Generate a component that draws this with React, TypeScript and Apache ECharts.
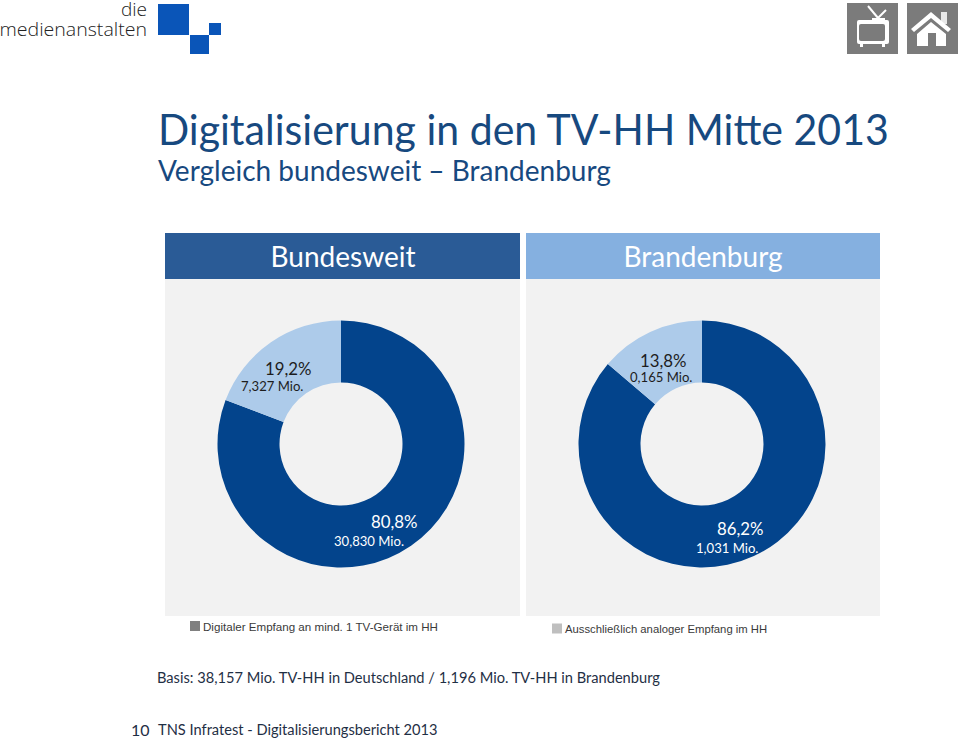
import React, { useEffect, useRef } from "react";
import * as echarts from "echarts";

const categories = ["Digitaler Empfang an mind. 1 TV-Gerät im HH", "Ausschließlich analoger Empfang im HH"];
const bundesweitValues = [30.83, 7.327];
const brandenburgValues = [1.031, 0.165];
const bundesweitPct = ["80,8%", "19,2%"];
const brandenburgPct = ["86,2%", "13,8%"];
const bundesweitMio = ["30,830 Mio.", "7,327 Mio."];
const brandenburgMio = ["1,031 Mio.", "0,165 Mio."];
const headers = ["Bundesweit", "Brandenburg"];

const FONT = "Lato, 'Open Sans', sans-serif";
const DARK = "#03448c";
const LIGHT = "#adcbea";

function pieSeries(center: number[], values: number[], pct: string[], mio: string[], pos: number[][], pads: number[], lhs: number[]) {
  return {
    type: "pie",
    center,
    radius: [61.5, 123.5],
    startAngle: 90,
    clockwise: true,
    avoidLabelOverlap: false,
    silent: true,
    labelLine: { show: false },
    data: values.map((v, i) => {
      const c = i === 0 ? "#ffffff" : "#1d1d1d";
      return {
        value: v,
        name: categories[i],
        itemStyle: { color: i === 0 ? DARK : LIGHT },
        label: {
          show: true,
          position: "inside",
          align: "left",
          verticalAlign: "top",
          formatter: `{p|${pct[i]}}\n{m|${mio[i]}}`,
          rich: {
            p: { fontFamily: FONT, fontSize: 16.8, color: c, lineHeight: lhs[i], padding: [0, 0, 0, pads[i]] },
            m: { fontFamily: FONT, fontSize: 13.1, color: c, lineHeight: 16 },
          },
        },
      };
    }),
    labelLayout: (p: any) => ({ x: pos[p.dataIndex][0], y: pos[p.dataIndex][1], align: "left", verticalAlign: "top" }),
  };
}

const sq = (x: number, y: number, width: number, height: number, fill: string) => ({
  type: "rect",
  shape: { x, y, width, height },
  style: { fill },
  silent: true,
});
const txt = (x: number, y: number, text: string, fontSize: number, fill: string, scaleX = 1, extra: any = {}) => ({
  type: "text",
  x,
  y,
  scaleX,
  silent: true,
  style: { text, fontSize, fill, fontFamily: FONT, textVerticalAlign: "middle", ...extra },
});

export default function App() {
  const ref = useRef<HTMLDivElement>(null);
  useEffect(() => {
    document.body.style.margin = "0";
    const chart = echarts.init(ref.current!, null, { renderer: "svg" });
    const legendBase = {
      orient: "horizontal",
      icon: "rect",
      itemWidth: 10,
      itemHeight: 10,
      itemGap: 0,
      padding: 0,
      selectedMode: false,
    };
    const legendText = (fontSize: number) => ({
      fontFamily: "'Liberation Sans', Arial, sans-serif",
      fontSize,
      color: "#3a3a3a",
      padding: [0, 0, 0, -2],
    });
    chart.setOption({
      animation: false,
      backgroundColor: "#ffffff",
      legend: [
        { ...legendBase, left: 190, top: 620, textStyle: legendText(11.6), data: [{ name: categories[0], itemStyle: { color: "#808080" } }] },
        { ...legendBase, left: 552, top: 623, textStyle: legendText(11.3), data: [{ name: categories[1], itemStyle: { color: "#bfbfbf" } }] },
      ],
      graphic: [
        sq(165, 279, 355, 337, "#f2f2f2"),
        sq(526, 279, 354, 337, "#f2f2f2"),
        sq(165, 233, 355, 46, "#2a5b96"),
        sq(526, 233, 354, 46, "#85b0e0"),
        txt(343, 256, headers[0], 28, "#ffffff", 1, { textAlign: "center" }),
        txt(703, 256, headers[1], 28, "#ffffff", 1, { textAlign: "center" }),
        txt(158, 129, "Digitalisierung in den TV-HH Mitte 2013", 43, "#17497f", 0.955),
        txt(158, 170, "Vergleich bundesweit – Brandenburg", 28, "#17497f"),
        txt(157, 677, "Basis: 38,157 Mio. TV-HH in Deutschland / 1,196 Mio. TV-HH in Brandenburg", 16, "#1f2f45", 0.915),
        txt(131, 729, "10", 16, "#1f2f45"),
        txt(158, 729, "TNS Infratest - Digitalisierungsbericht 2013", 16, "#1f2f45", 0.915),
        // logo
        txt(147, 9, "die", 19, "#222222", 1, { textAlign: "right", fontFamily: "'Open Sans', sans-serif", fontWeight: 300, lineHeight: 18 }),
        txt(147, 29, "medienanstalten", 19, "#222222", 1.03, { textAlign: "right", fontFamily: "'Open Sans', sans-serif", fontWeight: 300, lineHeight: 18 }),
        sq(158, 4, 31, 31, "#0a55b8"),
        sq(190, 35, 19, 19, "#0a55b8"),
        sq(209, 23, 12, 12, "#0a55b8"),
        // TV icon
        sq(847, 3, 51, 51, "#7b7b7b"),
        { type: "line", silent: true, shape: { x1: 868, y1: 6, x2: 878, y2: 18 }, style: { stroke: "#fff", lineWidth: 2 } },
        { type: "line", silent: true, shape: { x1: 886, y1: 10, x2: 878, y2: 18 }, style: { stroke: "#fff", lineWidth: 2 } },
        sq(872, 18, 13, 2, "#ffffff"),
        { type: "rect", silent: true, shape: { x: 857, y: 20, width: 32, height: 24, r: 2 }, style: { fill: "#ffffff" } },
        { type: "rect", silent: true, shape: { x: 859, y: 24, width: 26, height: 17, r: 2 }, style: { fill: "#7b7b7b" } },
        sq(860, 44, 3, 3, "#ffffff"),
        sq(882, 44, 3, 3, "#ffffff"),
        // house icon
        sq(907, 3, 51, 51, "#7b7b7b"),
        sq(941, 12, 6, 12, "#e8e8e8"),
        { type: "polygon", silent: true, shape: { points: [[931, 12], [951, 29], [948, 32], [931, 18], [914, 32], [911, 29]] }, style: { fill: "#ffffff" } },
        { type: "polygon", silent: true, shape: { points: [[931, 22], [946, 34], [946, 46], [936, 46], [936, 33], [928, 33], [928, 46], [917, 46], [917, 34]] }, style: { fill: "#ffffff" } },
      ],
      series: [
        pieSeries([341, 444], bundesweitValues, bundesweitPct, bundesweitMio, [[334, 510], [241, 359]], [37, 24], [23, 19]),
        pieSeries([702, 444], brandenburgValues, brandenburgPct, brandenburgMio, [[696, 517], [630, 351]], [21, 10], [23, 18]),
      ],
    });
    return () => chart.dispose();
  }, []);
  return <div ref={ref} style={{ width: 959, height: 740, position: "absolute", left: 0, top: 0 }} />;
}
